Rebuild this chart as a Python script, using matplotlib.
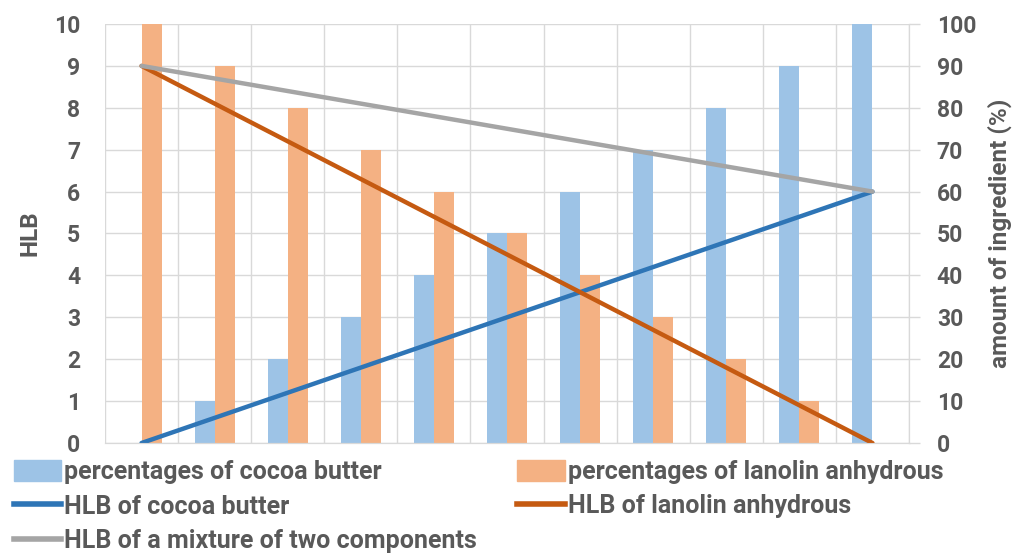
import numpy as np
import matplotlib
matplotlib.use('Agg')
import matplotlib.pyplot as plt
from matplotlib.lines import Line2D
from matplotlib.patches import Patch

plt.rcParams['font.family'] = ['Roboto', 'DejaVu Sans']
plt.rcParams['font.weight'] = 'bold'

# data
steps = np.arange(11)
pct_cocoa = [0, 10, 20, 30, 40, 50, 60, 70, 80, 90, 100]
pct_lanolin = [100, 90, 80, 70, 60, 50, 40, 30, 20, 10, 0]
hlb_cocoa = [0, 0.6, 1.2, 1.8, 2.4, 3.0, 3.6, 4.2, 4.8, 5.4, 6.0]
hlb_lanolin = [9, 8.1, 7.2, 6.3, 5.4, 4.5, 3.6, 2.7, 1.8, 0.9, 0]
hlb_mix = [9, 8.7, 8.4, 8.1, 7.8, 7.5, 7.2, 6.9, 6.6, 6.3, 6.0]

txt = '#595959'
grid = '#D9D9D9'
c_blue_bar = '#9DC3E6'
c_orange_bar = '#F4B183'
c_blue = '#2E75B6'
c_orange = '#C55A11'
c_gray = '#A5A5A5'

fig = plt.figure(figsize=(10.16, 5.54), dpi=100)
ax2 = fig.add_axes([105/1016, 1-443/554, 804/1016, 419/554])
ax = ax2.twinx()
ax.yaxis.tick_left()
ax2.yaxis.tick_right()
ax.set_zorder(ax2.get_zorder() + 1)
ax.patch.set_visible(False)

w = 0.274
ax2.bar(steps - w/2, pct_cocoa, w, color=c_blue_bar, zorder=2)
ax2.bar(steps + w/2, pct_lanolin, w, color=c_orange_bar, zorder=2)
ax2.set_ylim(0, 100)
ax2.set_xlim(-0.5, 10.5)
ax2.set_yticks(range(0, 101, 10))
ax2.set_xticks([])
ax2.set_xticks(np.arange(-0.5, 11, 1), minor=True)
ax2.grid(True, which='both', color=grid, linewidth=1)
ax2.set_axisbelow(True)
ax2.tick_params(axis='x', which='both', length=0, labelbottom=False)
ax2.tick_params(axis='y', direction='out', length=8, color=grid, width=1,
                labelsize=16.5, labelcolor=txt, pad=12)

ax.plot(steps, hlb_cocoa, color=c_blue, lw=3.2, solid_capstyle='round')
ax.plot(steps, hlb_lanolin, color=c_orange, lw=3.2, solid_capstyle='round')
ax.plot(steps, hlb_mix, color=c_gray, lw=3.2, solid_capstyle='round')
ax.set_ylim(0, 10)
ax.set_yticks(range(0, 11))
ax.tick_params(axis='y', length=0, labelsize=16.5, labelcolor=txt, pad=18)

for a in (ax, ax2):
    for s in a.spines.values():
        s.set_color(grid)
    a.spines['top'].set_visible(False)
    a.spines['left'].set_visible(False)
ax2.spines['right'].set_visible(True)

fig.text(30/1016, 1-233/554, 'HLB', rotation=90, ha='center', va='center',
         fontsize=17.5, color=txt, fontweight='bold')
fig.text(1000/1016, 1-233/554, 'amount of ingredient (%)', rotation=90,
         ha='center', va='center', fontsize=17.5, color=txt, fontweight='bold')

handles = [Patch(color=c_blue_bar), Line2D([], [], color=c_blue, lw=4),
           Line2D([], [], color=c_gray, lw=4),
           Patch(color=c_orange_bar), Line2D([], [], color=c_orange, lw=4)]
labels = ['percentages of cocoa butter', 'HLB of cocoa butter',
          'HLB of a mixture of two components',
          'percentages of lanolin anhydrous', 'HLB of lanolin anhydrous']
leg = fig.legend(handles, labels, ncol=2, loc='upper left',
                 bbox_to_anchor=(14/1016, 1-460/554), frameon=False,
                 prop={'size': 18, 'weight': 'bold'}, handlelength=1.9,
                 handleheight=0.9, handletextpad=0.12, columnspacing=1.6,
                 labelspacing=0.42, borderaxespad=0, borderpad=0)
for t in leg.get_texts():
    t.set_color(txt)

fig.savefig('out.png', dpi=100)
